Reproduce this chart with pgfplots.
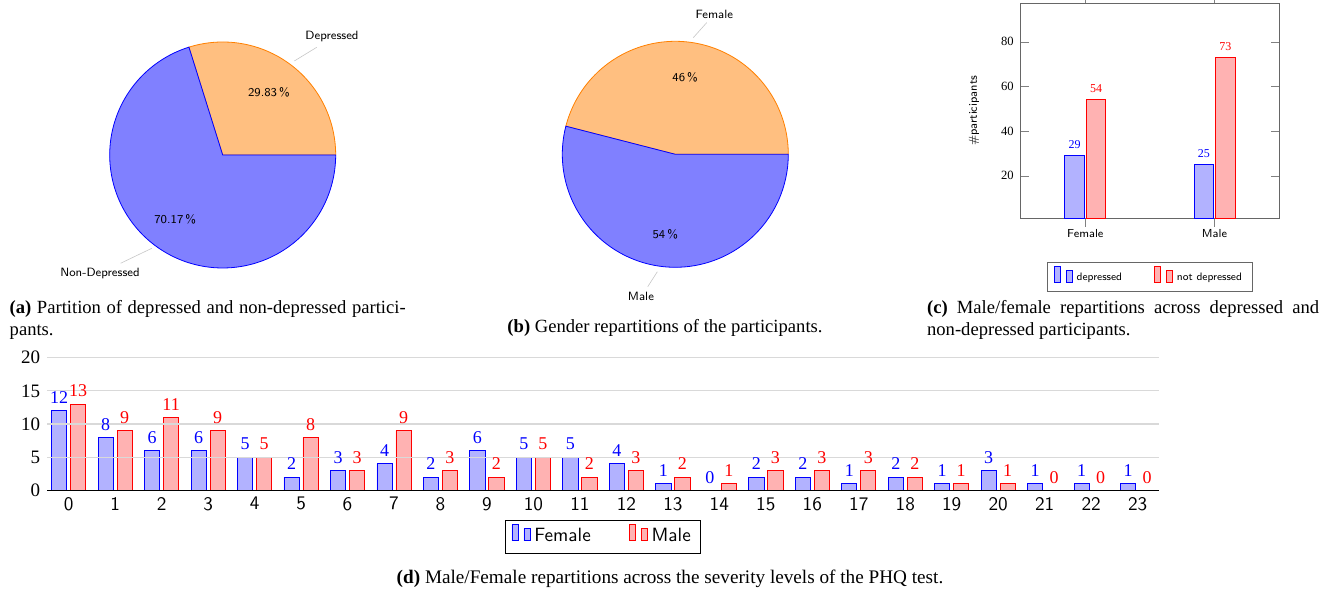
\documentclass[border=0pt]{standalone}
\usepackage{fontspec}
\setmainfont{Liberation Serif}
\usepackage{pgfplots}
\pgfplotsset{compat=1.18}
\begin{document}
\begin{tikzpicture}
\useasboundingbox (0,0) rectangle (667pt,296.5pt);

% ---------------- (a) pie: Depressed 29.83 %, Non-Depressed 70.17 %
\begin{axis}[at={(54.85pt,162.5pt)}, anchor=south west, scale only axis,
  width=113pt, height=113pt, xmin=-1, xmax=1, ymin=-1, ymax=1, hide axis, clip=false]
  % 29.83 % -> 107.388 degrees
  \addplot[draw=orange, fill=orange!50, line width=0.4pt, domain=0:107.388, samples=80]
    ({cos(x)},{sin(x)}) -- (axis cs:0,0) -- cycle;
  \addplot[draw=blue, fill=blue!50, line width=0.4pt, domain=107.388:360, samples=160]
    ({cos(x)},{sin(x)}) -- (axis cs:0,0) -- cycle;
  \node[font=\sffamily\fontsize{6}{7}\selectfont] at (axis cs:{0.69*cos(53.694)},{0.69*sin(53.694)}) {29.83\,\%};
  \node[font=\sffamily\fontsize{6}{7}\selectfont] at (axis cs:{0.71*cos(233.694)},{0.71*sin(233.694)}) {70.17\,\%};
  \draw[gray!45, line width=0.3pt] (axis cs:0.634,0.832) -- (axis cs:0.832,0.953);
  \draw[gray!45, line width=0.3pt] (axis cs:-0.628,-0.826) -- (axis cs:-0.903,-0.958);
  \node[font=\sffamily\fontsize{6}{7}\selectfont] at (axis cs:0.967,1.047) {Depressed};
  \node[font=\sffamily\fontsize{6}{7}\selectfont] at (axis cs:-1.086,-1.047) {Non-Depressed};
\end{axis}

% ---------------- (b) pie: Female 46 %, Male 54 %
\begin{axis}[at={(281.15pt,162.85pt)}, anchor=south west, scale only axis,
  width=113pt, height=113pt, xmin=-1, xmax=1, ymin=-1, ymax=1, hide axis, clip=false]
  % 46 % -> 165.6 degrees
  \addplot[draw=orange, fill=orange!50, line width=0.4pt, domain=0:165.6, samples=100]
    ({cos(x)},{sin(x)}) -- (axis cs:0,0) -- cycle;
  \addplot[draw=blue, fill=blue!50, line width=0.4pt, domain=165.6:360, samples=120]
    ({cos(x)},{sin(x)}) -- (axis cs:0,0) -- cycle;
  \node[font=\sffamily\fontsize{6}{7}\selectfont] at (axis cs:{0.69*cos(82.8)},{0.69*sin(82.8)}) {46\,\%};
  \node[font=\sffamily\fontsize{6}{7}\selectfont] at (axis cs:{0.71*cos(262.8)},{0.71*sin(262.8)}) {54\,\%};
  \draw[gray!45, line width=0.3pt] (axis cs:0.159,1.032) -- (axis cs:0.278,1.165);
  \draw[gray!45, line width=0.3pt] (axis cs:-0.159,-1.039) -- (axis cs:-0.244,-1.172);
  \node[font=\sffamily\fontsize{6}{7}\selectfont] at (axis cs:0.345,1.242) {Female};
  \node[font=\sffamily\fontsize{6}{7}\selectfont] at (axis cs:-0.304,-1.254) {Male};
\end{axis}

% ---------------- (c) bars
\begin{axis}[at={(510.35pt,187.35pt)}, anchor=south west, scale only axis,
  width=129.2pt, height=107.5pt,
  ybar=1pt, bar width=9.75pt,
  xmin=-0.5, xmax=1.5, ymin=1, ymax=97.2,
  xtick={0,1}, xticklabels={Female,Male}, ytick={20,40,60,80},
  xtick align=outside,
  axis line style={black!60}, tick style={black!50},
  /pgf/number format/assume math mode=true,
  tick label style={font=\fontsize{6.3}{7}\selectfont},
  xticklabel style={font=\sffamily\fontsize{5.8}{7}\selectfont, yshift=2pt},
  nodes near coords,
  every node near coord/.append style={font=\fontsize{6}{7}\selectfont},
  ylabel={\#participants},
  every axis y label/.style={at={(axis description cs:-0.181,0.5)}, rotate=90, anchor=center,
    font=\sffamily\fontsize{5.8}{7}\selectfont},
  legend columns=2,
  legend style={at={(0.5,-0.202)}, anchor=north, font=\sffamily\fontsize{5.4}{6.5}\selectfont,
    draw=black!60, /tikz/every even column/.append style={column sep=14pt}},
]
  \addplot coordinates {(0,29) (1,25)};
  \addplot coordinates {(0,54) (1,73)};
  \legend{depressed, not depressed}
\end{axis}

% ---------------- (d) bars
\begin{axis}[at={(23.65pt,51.35pt)}, anchor=south west, scale only axis,
  width=555.85pt, height=66.3pt,
  ybar=1.9pt, bar width=7.6pt,
  xmin=-0.46, xmax=23.46, ymin=0, ymax=20,
  xtick={0,...,23}, ytick={0,5,10,15,20},
  axis on top,
  axis x line*=bottom, axis y line*=left,
  x axis line style={draw=black, line width=0.6pt},
  y axis line style={draw=none},
  ymajorgrids, grid style={black!15, line width=0.6pt},
  major tick length=0pt,
  /pgf/number format/assume math mode=true,
  yticklabel style={font=\fontsize{9.5}{11}\selectfont},
  xticklabel style={font=\sffamily\fontsize{9.6}{11}\selectfont},
  nodes near coords,
  every node near coord/.append style={font=\fontsize{9}{10}\selectfont},
  legend columns=2,
  legend style={at={(0.5,-0.224)}, anchor=north, font=\sffamily\fontsize{9.6}{11}\selectfont,
    /tikz/every even column/.append style={column sep=17pt}},
]
  \addplot coordinates {(0,12) (1,8) (2,6) (3,6) (4,5) (5,2) (6,3) (7,4) (8,2) (9,6) (10,5) (11,5)
    (12,4) (13,1) (14,0) (15,2) (16,2) (17,1) (18,2) (19,1) (20,3) (21,1) (22,1) (23,1)};
  \addplot coordinates {(0,13) (1,9) (2,11) (3,9) (4,5) (5,8) (6,3) (7,9) (8,3) (9,2) (10,5) (11,2)
    (12,3) (13,2) (14,1) (15,3) (16,3) (17,3) (18,2) (19,1) (20,1) (21,0) (22,0) (23,0)};
  \legend{Female, Male}
\end{axis}

% ---------------- captions
\node[anchor=north west, text width=198pt, align=justify, inner sep=0pt,
  font=\fontsize{9.3}{11}\selectfont] at (4.65pt,146.5pt)
  {\textbf{(a)} Partition of depressed and non-depressed partici-\linebreak pants.};
\node[anchor=center, inner sep=0pt, font=\fontsize{9.3}{11}\selectfont] at (332.5pt,132.5pt)
  {\textbf{(b)} Gender repartitions of the participants.};
\node[anchor=north west, text width=196pt, align=justify, inner sep=0pt,
  font=\fontsize{9.3}{11}\selectfont] at (463.35pt,146.5pt)
  {\textbf{(c)} Male/female repartitions across depressed and\linebreak non-depressed participants.};
\node[anchor=center, inner sep=0pt, font=\fontsize{9.6}{11}\selectfont] at (335pt,7pt)
  {\textbf{(d)} Male/Female repartitions across the severity levels of the PHQ test.};
\end{tikzpicture}
\end{document}
